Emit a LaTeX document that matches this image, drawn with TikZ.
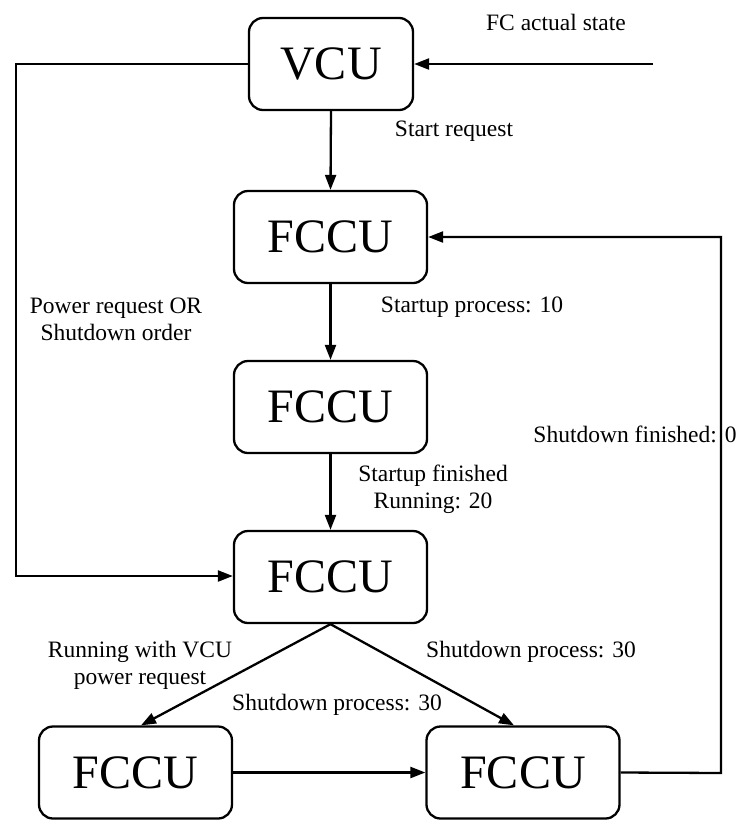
\documentclass[tikz,border=0pt]{standalone}
\usepackage{fontspec}
\setmainfont{Liberation Serif}
\usetikzlibrary{arrows.meta,calc}
\begin{document}
\begin{tikzpicture}[x=1pt,y={(0pt,-1pt)},
  unit/.style={draw, line width=2.3pt, rounded corners=14pt, minimum height=92pt,
    inner sep=0pt, font=\fontsize{48}{50}\selectfont},
  wide/.style={unit, minimum width=193pt},
  lbl/.style={font=\fontsize{23.5}{27}\selectfont, align=center, inner sep=0pt},
  flow/.style={line width=2.3pt, -{Triangle[length=15pt,width=11pt]}}]
\useasboundingbox (0,0) rectangle (740,820);

% state boxes
\node[unit, minimum width=164pt] (vcu) at (331,64) {VCU};
\node[wide] (f1) at (330.5,237) {FCCU};
\node[wide] (f2) at (330.5,407) {FCCU};
\node[wide] (f3) at (330.5,577) {FCCU};
\node[wide] (f4) at (135.5,772.5) {FCCU};
\node[wide] (f5) at (523,772.5) {FCCU};

% free ends and corners of the routed lines
\coordinate (fcin) at (653,64);
\coordinate (lefttop) at (16,64);
\coordinate (leftbot) at (16,576);
\coordinate (rightbot) at (721,773);
\coordinate (righttop) at (721,237);

% connectors
\draw[flow] (fcin) -- (vcu.east);
\draw[flow] (vcu.south) -- (f1.north);
\draw[flow] (f1.south) -- (f2.north);
\draw[flow] (f2.south) -- (f3.north);
\draw[flow] (vcu.west) -- (lefttop) -- (leftbot) -- (f3.west |- leftbot);
\draw[flow] (f3.south) -- ([xshift=5.5pt]f4.north);
\draw[flow] (f3.south) -- ([xshift=-9pt]f5.north);
\draw[flow] (f4.east) -- (f5.west);
\draw[flow] (f5.east) -- (rightbot) -- (righttop) -- (f1.east);

% transition labels
\node[lbl] (l1) at (556,22) {FC actual state};
\node[lbl] (l2) at (454,131) {Start request};
\node[lbl] (l3) at (116,319) {Power request OR\\Shutdown order};
\node[lbl] (l4) at (472,307) {Startup process: 10};
\node[lbl] (l5) at (635,434) {Shutdown finished: 0};
\node[lbl] (l6) at (433,489) {Startup finished\\Running: 20};
\node[lbl] (l7) at (140,665) {Running with VCU\\power request};
\node[lbl] (l8) at (531,652) {Shutdown process: 30};
\node[lbl] (l9) at (337,705) {Shutdown process: 30};
\end{tikzpicture}
\end{document}
